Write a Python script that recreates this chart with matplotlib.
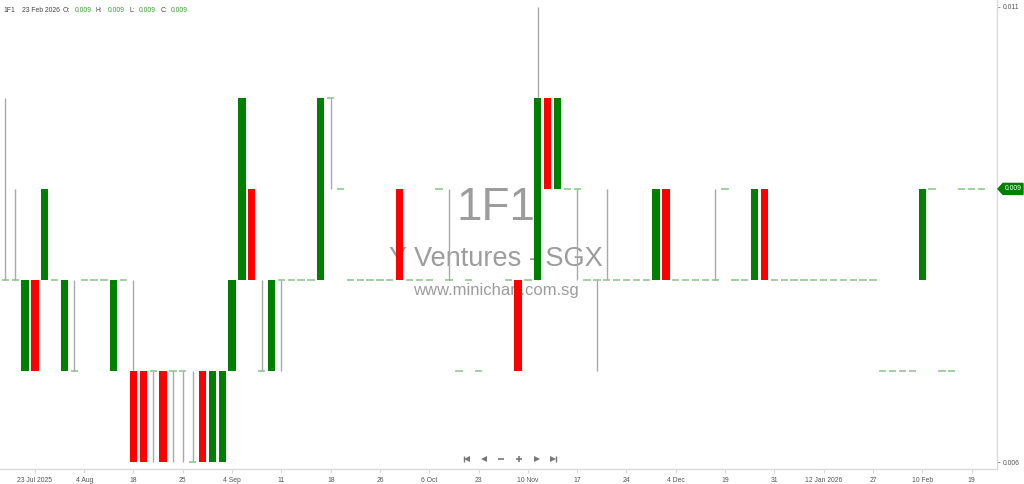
import numpy as np
import matplotlib
matplotlib.use("Agg")
import matplotlib.pyplot as plt
from matplotlib.patches import Polygon
from matplotlib.lines import Line2D
from matplotlib.transforms import IdentityTransform

nan = np.nan

# Daily OHLC prices (SGD), one entry per bar
opens = [
    0.008, 0.008, 0.007, 0.008, 0.008, 0.008, 0.007, 0.007, 0.008, 0.008,
    0.008, 0.007, 0.008, 0.007, 0.007, 0.007, 0.007, 0.007, 0.007, 0.006,
    0.007, 0.006, 0.006, 0.007, 0.008, 0.009, 0.007, 0.007, 0.008, 0.008,
    0.008, 0.008, 0.008, 0.010, 0.009, 0.008, 0.008, 0.008, 0.008, 0.008,
    0.009, 0.008, 0.008, 0.008, 0.009, 0.008, 0.007, 0.008, 0.007, nan,
    nan, 0.008, 0.008, 0.008, 0.008, 0.010, 0.009, 0.009, 0.009, 0.008,
    0.008, 0.008, 0.008, 0.008, 0.008, 0.008, 0.008, 0.009, 0.008, 0.008,
    0.008, 0.008, 0.008, 0.009, 0.008, 0.008, 0.008, 0.009, 0.008, 0.008,
    0.008, 0.008, 0.008, 0.008, 0.008, 0.008, 0.008, 0.008, 0.008, 0.007,
    0.007, 0.007, 0.007, 0.008, 0.009, 0.007, 0.007, 0.009, 0.009, 0.009,
]
highs = [
    0.010, 0.009, 0.008, 0.008, 0.009, 0.008, 0.008, 0.008, 0.008, 0.008,
    0.008, 0.008, 0.008, 0.008, 0.007, 0.007, 0.007, 0.007, 0.007, 0.007,
    0.007, 0.007, 0.007, 0.008, 0.010, 0.009, 0.008, 0.008, 0.008, 0.008,
    0.008, 0.008, 0.010, 0.010, 0.009, 0.008, 0.008, 0.008, 0.008, 0.008,
    0.009, 0.008, 0.008, 0.008, 0.009, 0.009, 0.007, 0.008, 0.007, nan,
    nan, 0.008, 0.008, 0.008, 0.011, 0.010, 0.010, 0.009, 0.009, 0.008,
    0.008, 0.009, 0.008, 0.008, 0.008, 0.008, 0.009, 0.009, 0.008, 0.008,
    0.008, 0.008, 0.009, 0.009, 0.008, 0.008, 0.009, 0.009, 0.008, 0.008,
    0.008, 0.008, 0.008, 0.008, 0.008, 0.008, 0.008, 0.008, 0.008, 0.007,
    0.007, 0.007, 0.007, 0.009, 0.009, 0.007, 0.007, 0.009, 0.009, 0.009,
]
lows = [
    0.008, 0.008, 0.007, 0.007, 0.008, 0.008, 0.007, 0.007, 0.008, 0.008,
    0.008, 0.007, 0.008, 0.006, 0.006, 0.006, 0.006, 0.006, 0.006, 0.006,
    0.006, 0.006, 0.006, 0.007, 0.008, 0.008, 0.007, 0.007, 0.007, 0.008,
    0.008, 0.008, 0.008, 0.009, 0.009, 0.008, 0.008, 0.008, 0.008, 0.008,
    0.008, 0.008, 0.008, 0.008, 0.009, 0.008, 0.007, 0.008, 0.007, nan,
    nan, 0.008, 0.007, 0.008, 0.008, 0.009, 0.009, 0.009, 0.008, 0.008,
    0.007, 0.008, 0.008, 0.008, 0.008, 0.008, 0.008, 0.008, 0.008, 0.008,
    0.008, 0.008, 0.008, 0.009, 0.008, 0.008, 0.008, 0.008, 0.008, 0.008,
    0.008, 0.008, 0.008, 0.008, 0.008, 0.008, 0.008, 0.008, 0.008, 0.007,
    0.007, 0.007, 0.007, 0.008, 0.009, 0.007, 0.007, 0.009, 0.009, 0.009,
]
closes = [
    0.008, 0.008, 0.008, 0.007, 0.009, 0.008, 0.008, 0.007, 0.008, 0.008,
    0.008, 0.008, 0.008, 0.006, 0.006, 0.007, 0.006, 0.007, 0.007, 0.006,
    0.006, 0.007, 0.007, 0.008, 0.010, 0.008, 0.007, 0.008, 0.008, 0.008,
    0.008, 0.008, 0.010, 0.010, 0.009, 0.008, 0.008, 0.008, 0.008, 0.008,
    0.008, 0.008, 0.008, 0.008, 0.009, 0.008, 0.007, 0.008, 0.007, nan,
    nan, 0.008, 0.007, 0.008, 0.010, 0.009, 0.010, 0.009, 0.009, 0.008,
    0.008, 0.008, 0.008, 0.008, 0.008, 0.008, 0.009, 0.008, 0.008, 0.008,
    0.008, 0.008, 0.008, 0.009, 0.008, 0.008, 0.009, 0.008, 0.008, 0.008,
    0.008, 0.008, 0.008, 0.008, 0.008, 0.008, 0.008, 0.008, 0.008, 0.007,
    0.007, 0.007, 0.007, 0.009, 0.009, 0.007, 0.007, 0.009, 0.009, 0.009,
]

# Date labels, placed every fifth bar starting at bar 3
tick_labels = ["23 Jul 2025", "4 Aug", "18", "25", "4 Sep", "11", "18", "26",
               "6 Oct", "23", "10 Nov", "17", "24", "4 Dec", "19", "31",
               "12 Jan 2026", "27", "10 Feb", "19"]
tick_start, tick_step = 3, 5
price_ticks = [0.011, 0.006]

symbol = "1F1"
company = "Y Ventures - SGX"
site = "www.minichart.com.sg"
last_date = "23 Feb 2026"

GREEN = "#008000"
RED = "#ff0000"
WICK = "#a9a9a9"
DASH = "#86c486"
AXIS = "#dadada"
TXT = "#555555"
SMALL_FONT = "Liberation Sans"

O = np.array(opens, dtype=float)
H = np.array(highs, dtype=float)
L = np.array(lows, dtype=float)
C = np.array(closes, dtype=float)
x = np.arange(len(O))
valid = ~np.isnan(O)
eps = 1e-7

W, Hpx = 1024, 484
fig = plt.figure(figsize=(W / 100, Hpx / 100), dpi=100)
fig.patch.set_facecolor("white")
ax = fig.add_axes([0, 15 / Hpx, 997 / W, 469 / Hpx])
ax.set_facecolor("white")

ax.set_xlim(-0.54, 100.58)
ax.set_ylim(0.0059287, 0.0110713)

body_w = 0.74

# wicks (range beyond the body)
top = np.fmax(O, C)
bot = np.fmin(O, C)
wick = valid & ((H - top > eps) | (bot - L > eps))
ax.vlines(x[wick], L[wick], H[wick], color=WICK, lw=1.0, zorder=2)

# bodies
body = valid & (np.abs(C - O) > eps)
colors = np.where(C[body] > O[body], GREEN, RED)
ax.bar(x[body], C[body] - O[body], bottom=O[body], width=body_w,
       color=colors, linewidth=0, zorder=3)

# flat bars (open == close)
flat = valid & (np.abs(C - O) <= eps)
ax.hlines(O[flat], x[flat] - body_w / 2, x[flat] + body_w / 2,
          color=DASH, lw=1.1, zorder=4)

# watermark
wm = dict(transform=ax.transAxes, ha="center", va="baseline", color="#9c9c9c",
          family="Liberation Sans", zorder=1)
ax.text(0.4975, 1 - 220 / 469, symbol, fontsize=33, **wm)
ax.text(0.4975, 1 - 266 / 469, company, fontsize=19.5, **wm)
ax.text(0.4975, 1 - 295 / 469, site, fontsize=12, **wm)

# axes styling
for s in ["top", "left"]:
    ax.spines[s].set_visible(False)
for s in ["right", "bottom"]:
    ax.spines[s].set_color(AXIS)
    ax.spines[s].set_linewidth(1.0)

tick_pos = [tick_start + tick_step * k for k in range(len(tick_labels))]
ax.set_xticks(tick_pos)
ax.set_xticklabels(tick_labels, fontsize=4.9, color=TXT, family=SMALL_FONT)
ax.tick_params(axis="x", direction="out", length=3, width=0.8, color=AXIS, pad=3)

ax.yaxis.tick_right()
ax.set_yticks(price_ticks)
ax.set_yticklabels([f"{v:.3f}" for v in price_ticks], fontsize=4.9, color=TXT,
                   family=SMALL_FONT)
ax.tick_params(axis="y", direction="out", length=2.5, width=0.8, color="#999999", pad=1.5)

# last price tag on the price axis
last = C[valid][-1]
fig.canvas.draw()
px, py = ax.transData.transform((ax.get_xlim()[1], last))
tag = [(px + 1, py), (px + 6, py + 5.5), (px + 26, py + 5.5),
       (px + 26, py - 5.5), (px + 6, py - 5.5)]
fig.add_artist(Polygon(tag, closed=True, facecolor=GREEN, edgecolor=GREEN,
                       transform=IdentityTransform(), clip_on=False))
fig.text((px + 16) / W, py / Hpx, f"{last:.3f}", fontsize=4.9, color="white",
         ha="center", va="center", family=SMALL_FONT)

# header line with the last bar's values
hy = 1 - 12.5 / Hpx
hdr = dict(fontsize=4.9, va="baseline", family=SMALL_FONT)
fig.text(3 / W, hy, symbol, color="#444444", **hdr)
fig.text(22 / W, hy, last_date, color="#444444", **hdr)
ohlc_vals = [O[valid][-1], H[valid][-1], L[valid][-1], C[valid][-1]]
for lbl, lx, vx, v in zip(["O:", "H:", "L:", "C:"], [63, 96, 129, 161],
                          [75, 108, 139, 171], ohlc_vals):
    fig.text(lx / W, hy, lbl, color="#444444", **hdr)
    fig.text(vx / W, hy, f"{v:.3f}", color="#2e9e2e", **hdr)

# navigation buttons
ny = 484 - 459
nav = "#777777"
def navmark(xp, marker, ms, mew=0):
    fig.add_artist(Line2D([xp / W], [ny / Hpx], marker=marker, markersize=ms,
                          color=nav, markeredgewidth=mew, linestyle="none",
                          transform=fig.transFigure))
navmark(467, "<", 4.5)
navmark(464, "|", 4.5, 1.0)
navmark(484, "<", 4.5)
navmark(501, "_", 5, 1.2)
navmark(518.5, "+", 5, 1.2)
navmark(536.5, ">", 4.5)
navmark(553, ">", 4.5)
navmark(556, "|", 4.5, 1.0)

fig.savefig("out.png", dpi=100, facecolor="white")
